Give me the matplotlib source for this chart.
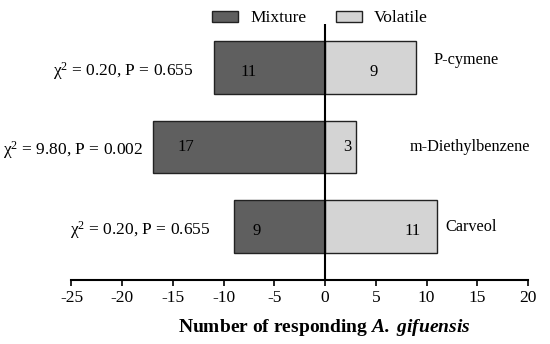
import numpy as np
import matplotlib.pyplot as plt
from matplotlib.patches import Patch

compounds = ['P-cymene', 'm-Diethylbenzene', 'Carveol']
mixture = [11, 17, 9]
volatile = [9, 3, 11]
stats = ['χ$^{2}$ = 0.20, P = 0.655', 'χ$^{2}$ = 9.80, P = 0.002', 'χ$^{2}$ = 0.20, P = 0.655']
xticks = [-25, -20, -15, -10, -5, 0, 5, 10, 15, 20]

plt.rcParams['font.family'] = ['Liberation Serif', 'DejaVu Serif']
plt.rcParams['mathtext.fontset'] = 'custom'
plt.rcParams['mathtext.rm'] = 'Liberation Serif'
plt.rcParams['mathtext.it'] = 'Liberation Serif:italic'
plt.rcParams['mathtext.bfit'] = 'Liberation Serif:italic:bold'
plt.rcParams['axes.unicode_minus'] = False

fig = plt.figure(figsize=(5.5, 3.44), dpi=100)
ax = fig.add_axes([0.130, 0.186, 0.830, 0.744])

y = np.array([2, 1, 0])
h = 0.66
ax.barh(y, -np.array(mixture), height=h, color='#5f5f5f', edgecolor='#222222', linewidth=1)
ax.barh(y, volatile, height=h, color='#d4d4d4', edgecolor='#222222', linewidth=1)
ax.axvline(0, color='black', lw=1.5)

# value labels
mix_off = [3.5, 3.3, 2.2]
vol_off = [4.2, 0.8, 2.4]
lab_dy = [-0.05, 0.0, -0.06]
for i in range(3):
    ax.text(-mixture[i] + mix_off[i], y[i] + lab_dy[i], str(mixture[i]), ha='center', va='center', fontsize=12)
    ax.text(volatile[i] - vol_off[i], y[i] + lab_dy[i], str(volatile[i]), ha='center', va='center', fontsize=12)

# stats and names
stat_x = [-13.0, -17.9, -11.35]
name_x = [10.7, 8.3, 11.85]
name_dy = [0.09, 0.0, 0.0]
for i in range(3):
    ax.text(stat_x[i], y[i] - 0.04, stats[i], ha='right', va='center', fontsize=12.5)
    ax.text(name_x[i], y[i] + name_dy[i], compounds[i], ha='left', va='center', fontsize=11.7)

ax.set_xlim(-25, 20)
ax.set_ylim(-0.673, 2.547)
ax.set_xticks(xticks)
ax.set_yticks([])
for s in ['top', 'right', 'left']:
    ax.spines[s].set_visible(False)
ax.spines['bottom'].set_linewidth(1.5)
ax.tick_params(axis='x', direction='out', length=4, width=1.2, labelsize=12.5, pad=3)
ax.set_xlabel('Number of responding $\\mathbfit{A.\\ gifuensis}$', fontsize=14, fontweight='bold')
ax.xaxis.set_label_coords(0.555, -0.145)

handles = [Patch(facecolor='#5f5f5f', edgecolor='#222222', label='Mixture'),
           Patch(facecolor='#d4d4d4', edgecolor='#222222', label='Volatile')]
fig.legend(handles=handles, loc='upper center', bbox_to_anchor=(0.582, 1.015), ncol=2, frameon=False,
           fontsize=12.5, handlelength=1.5, handleheight=0.6, columnspacing=1.7, handletextpad=0.7)

fig.savefig('out.png', dpi=100)
